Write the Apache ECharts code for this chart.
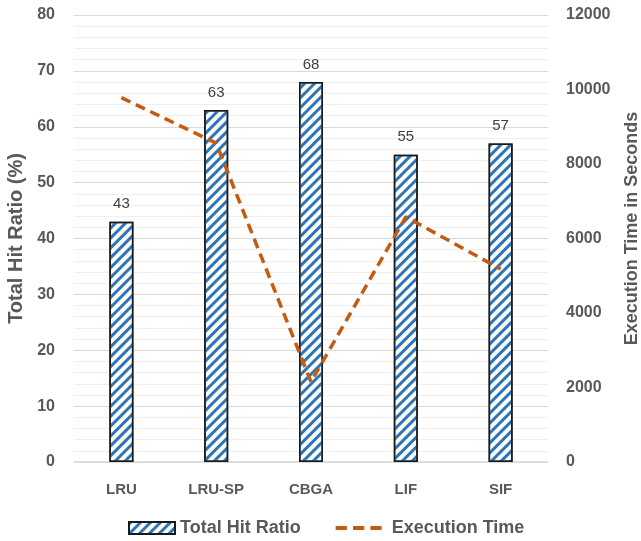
<!DOCTYPE html>
<html><head><meta charset="utf-8">
<script src="https://cdn.jsdelivr.net/npm/echarts@6/dist/echarts.min.js"></script>
<style>html,body{margin:0;padding:0;background:#fff}#c{width:641px;height:541px}</style>
</head><body><div id="c"></div>
<script>
const categories = ['LRU', 'LRU-SP', 'CBGA', 'LIF', 'SIF'];
const hitRatio = [43, 63, 68, 55, 57];
const execTime = [9780, 8560, 2150, 6580, 5180];
const leftTicks = [0, 80, 10];
const rightTicks = [0, 12000, 2000];

const font = 'Liberation Sans';
const gray = '#595959';
const chart = echarts.init(document.getElementById('c'));
chart.setOption({
  animation: false,
  textStyle: { fontFamily: font },
  grid: { left: 74, right: 93, top: 15, bottom: 79, outerBoundsMode: 'none', containLabel: false },
  legend: {
    top: 514, left: 123, itemGap: 35, itemWidth: 46, itemHeight: 12,
    textStyle: { fontSize: 18, fontWeight: 'bold', color: gray },
    data: [
      { name: 'Total Hit Ratio', icon: 'rect' },
      { name: 'Execution Time', icon: 'path://M0,0h11v4h-11z M17,0h11v4h-11z M34,0h11v4h-11z',
        itemStyle: { color: '#C55A11', borderWidth: 0 },
        textStyle: { padding: [0, 0, 0, 5] } }
    ]
  },
  xAxis: {
    type: 'category', data: categories,
    axisLine: { lineStyle: { color: '#D9D9D9', width: 1.5 } },
    axisTick: { show: false },
    axisLabel: { fontSize: 15, fontWeight: 'bold', color: gray, margin: 20 }
  },
  yAxis: [{
    type: 'value', min: leftTicks[0], max: leftTicks[1], interval: leftTicks[2],
    name: 'Total Hit Ratio (%)', nameLocation: 'middle', nameGap: 47,
    nameTextStyle: { fontSize: 20, fontWeight: 'bold', color: gray },
    axisLabel: { fontSize: 16, fontWeight: 'bold', color: gray, margin: 19 },
    splitLine: { lineStyle: { color: '#D9D9D9', width: 1 } },
    minorSplitLine: { show: true, lineStyle: { color: '#EEEEEE', width: 1 } },
    minorTick: { show: false, splitNumber: 5 }
  }, {
    type: 'value', min: rightTicks[0], max: rightTicks[1], interval: rightTicks[2],
    name: 'Execution Time in Seconds', nameLocation: 'middle', nameGap: 75,
    nameRotate: 90,
    nameTextStyle: { fontSize: 18, fontWeight: 'bold', color: gray, padding: [0, 0, 0, 20] },
    axisLabel: { fontSize: 16, fontWeight: 'bold', color: gray, margin: 18, formatter: v => String(v) },
    splitLine: { show: false }
  }],
  series: [{
    name: 'Total Hit Ratio', type: 'bar', data: hitRatio, barWidth: 24,
    itemStyle: {
      color: '#ffffff', borderColor: '#1a1a1a', borderWidth: 1.5,
      decal: { symbol: 'rect', symbolSize: 1, dashArrayX: [1, 0], dashArrayY: [3, 4], rotation: -Math.PI / 4, color: '#2E75B6' }
    },
    label: { show: true, position: 'top', distance: 10, fontSize: 15, color: '#404040' }
  }, {
    name: 'Execution Time', type: 'line', yAxisIndex: 1, data: execTime,
    symbol: 'none', z: 5,
    lineStyle: { color: '#C55A11', width: 3.5, type: [10, 6] },
    itemStyle: { color: '#C55A11' }
  }]
});
</script></body></html>
